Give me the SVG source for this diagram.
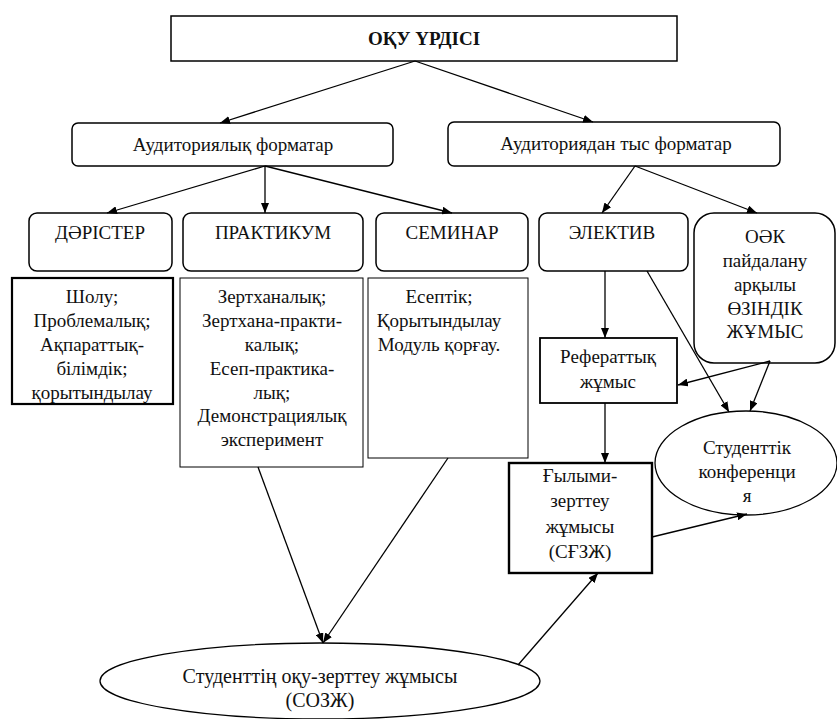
<svg xmlns="http://www.w3.org/2000/svg" width="837" height="719" viewBox="0 0 837 719">
<defs>
<marker id="ah" viewBox="0 0 10 8" refX="10" refY="4" markerWidth="10" markerHeight="8" markerUnits="userSpaceOnUse" orient="auto">
<path d="M0,0 L10,4 L0,8 Z" fill="#000"/>
</marker>
<style>
text{font-family:"Liberation Serif","Times New Roman","DejaVu Serif",serif;font-size:19px;fill:#111;text-anchor:middle}
.b{font-weight:bold}
.big{font-size:20px}
.box{fill:#fff;stroke:#000;stroke-width:1.5}
.thin{fill:#fff;stroke:#000;stroke-width:1}
.thick{fill:#fff;stroke:#000;stroke-width:2.2}
.conn line{stroke:#000;stroke-width:1.3;marker-end:url(#ah)}
</style>
</defs>
<rect width="837" height="719" fill="#fff"/>

<g id="oku-urdisi">
<rect class="box" x="171" y="16" width="506" height="45"/>
<text class="b" x="424" y="45">ОҚУ ҮРДІСІ</text>
</g>

<g id="auditoriyalyk">
<rect class="box" x="72" y="123" width="321" height="43" rx="6"/>
<text x="233" y="151">Аудиториялық форматар</text>
</g>

<g id="auditoriyadan-tys">
<rect class="box" x="448" y="122" width="332" height="44" rx="6"/>
<text x="616" y="150">Аудиториядан тыс форматар</text>
</g>

<g id="darister">
<rect class="box" x="29" y="213" width="143" height="58" rx="8"/>
<text x="100" y="239">ДӘРІСТЕР</text>
</g>
<g id="praktikum">
<rect class="box" x="183" y="213" width="180" height="58" rx="8"/>
<text x="273" y="239">ПРАКТИКУМ</text>
</g>
<g id="seminar">
<rect class="box" x="376" y="213" width="152" height="58" rx="8"/>
<text x="452" y="239">СЕМИНАР</text>
</g>
<g id="elektiv">
<rect class="box" x="539" y="213" width="149" height="58" rx="8"/>
<text x="612" y="239">ЭЛЕКТИВ</text>
</g>
<g id="oak">
<rect class="box" x="694" y="213" width="141" height="150" rx="20"/>
<text x="765" y="243">ОӘК</text>
<text x="765" y="267">пайдалану</text>
<text x="765" y="291">арқылы</text>
<text x="765" y="315">ӨЗІНДІК</text>
<text x="765" y="338">ЖҰМЫС</text>
</g>

<g id="sholu">
<rect class="thick" x="12" y="278" width="161" height="126"/>
<text x="92" y="303">Шолу;</text>
<text x="92" y="327">Проблемалық;</text>
<text x="92" y="351">Ақпараттық-</text>
<text x="92" y="375">білімдік;</text>
<text x="92" y="399">қорытындылау</text>
</g>

<g id="zerthanalyk">
<rect class="thin" x="180" y="278" width="183" height="189"/>
<text x="272" y="303">Зертханалық;</text>
<text x="272" y="327">Зертхана-практи-</text>
<text x="272" y="351">калық;</text>
<text x="272" y="375">Есеп-практика-</text>
<text x="272" y="399">лық;</text>
<text x="272" y="422">Демонстрациялық</text>
<text x="272" y="446">эксперимент</text>
</g>

<g id="eseptik">
<rect class="thin" x="368" y="278" width="160" height="180"/>
<text x="439" y="303">Есептік;</text>
<text x="439" y="327">Қорытындылау</text>
<text x="439" y="351">Модуль қорғау.</text>
</g>

<g id="referattyk">
<rect class="thick" style="stroke-width:1.8" x="540" y="338" width="137" height="65"/>
<text x="608" y="363">Рефераттық</text>
<text x="608" y="388">жұмыс</text>
</g>

<g id="gylymi">
<rect class="thick" style="stroke-width:2.4" x="509" y="463" width="143" height="110"/>
<text x="580" y="482">Ғылыми-</text>
<text x="580" y="507">зерттеу</text>
<text x="580" y="533">жұмысы</text>
<text x="580" y="558">(СҒЗЖ)</text>
</g>

<g id="stud-konf">
<ellipse class="box" style="stroke-width:1.3" cx="746" cy="463" rx="91" ry="52"/>
<text x="747" y="454">Студенттік</text>
<text x="747" y="478">конференци</text>
<text x="747" y="502">я</text>
</g>

<g id="sozh">
<ellipse class="box" style="stroke-width:1.3" cx="320" cy="681" rx="220" ry="38"/>
<text class="big" x="320" y="683">Студенттің оқу-зерттеу жұмысы</text>
<text class="big" x="320" y="707">(СОЗЖ)</text>
</g>

<g class="conn" id="connectors">
<line x1="415" y1="61" x2="220" y2="123"/>
<line x1="415" y1="61" x2="593" y2="122"/>
<line x1="265" y1="166" x2="107" y2="213"/>
<line x1="265" y1="166" x2="265" y2="213"/>
<line x1="265" y1="166" x2="452" y2="213"/>
<line x1="635" y1="166" x2="602" y2="213"/>
<line x1="635" y1="166" x2="757" y2="213"/>
<line x1="605" y1="271" x2="605" y2="338"/>
<line x1="605" y1="403" x2="605" y2="463"/>
<line x1="647" y1="271" x2="729" y2="412"/>
<line x1="770" y1="361" x2="678" y2="385"/>
<line x1="770" y1="361" x2="750" y2="411"/>
<line x1="652" y1="537" x2="747" y2="514"/>
<line x1="258" y1="467" x2="323" y2="643"/>
<line x1="448" y1="458" x2="323" y2="643"/>
<line x1="518" y1="665" x2="598" y2="573"/>
</g>
</svg>
